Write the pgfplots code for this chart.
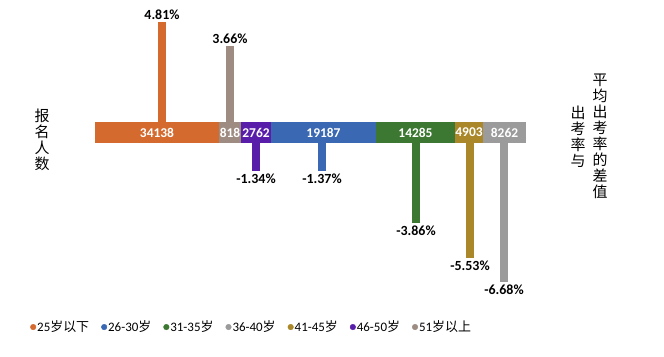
\documentclass[border=0pt]{standalone}
\usepackage{pgfplots}
\pgfplotsset{compat=1.18}
\usepackage{fontspec}
\setmainfont{Carlito}
\newfontfamily\cjk{Noto Sans CJK SC}
\definecolor{cOra}{RGB}{212,106,46}
\definecolor{cBrn}{RGB}{158,140,130}
\definecolor{cPur}{RGB}{88,30,170}
\definecolor{cBlu}{RGB}{58,104,178}
\definecolor{cGrn}{RGB}{60,120,50}
\definecolor{cGld}{RGB}{170,135,40}
\definecolor{cGry}{RGB}{155,155,155}
\newcommand{\lf}{\fontsize{13}{15}\selectfont}
\pgfplotsset{
  vbar/.style={ybar, bar width=8bp, bar shift=0pt, draw=none, fill=#1,
    y filter/.expression={y>0 ? y+0.5 : y-0.5},
    point meta=explicit symbolic, nodes near coords,
    nodes near coords style={font=\bfseries\fontsize{14}{16}\selectfont, text=black, inner sep=2.5bp},
    forget plot},
  seg/.style={fill=#1, draw=none, sharp plot, forget plot},
}
\begin{document}
\begin{tikzpicture}
\begin{axis}[
  scale only axis, width=664bp, height=357bp,
  xmin=0, xmax=664, ymin=-10.79, ymax=6.37,
  axis lines=none, clip=false,
  legend columns=7,
  legend style={draw=none, fill=none, at={(axis cs:27,-9.35)}, anchor=west,
    nodes={inner sep=1bp, font=\lf},
    /tikz/every even column/.append style={column sep=11bp}},
  legend image code/.code={\fill[#1] (2.8bp,0) circle (2.8bp);},
]
\path (rel axis cs:0,0) rectangle (rel axis cs:1,1);
% difference bars (percent)
\addplot[vbar=cOra] coordinates {(162,4.81) [4.81\%]};
\addplot[vbar=cBrn] coordinates {(230,3.66) [3.66\%]};
\addplot[vbar=cPur, nodes near coords style={anchor=north}] coordinates {(256,-1.34) [-1.34\%]};
\addplot[vbar=cBlu, nodes near coords style={anchor=north}] coordinates {(322,-1.37) [-1.37\%]};
\addplot[vbar=cGrn, nodes near coords style={anchor=north}] coordinates {(416,-3.86) [-3.86\%]};
\addplot[vbar=cGld, nodes near coords style={anchor=north}] coordinates {(470,-5.53) [-5.53\%]};
\addplot[vbar=cGry, nodes near coords style={anchor=north}] coordinates {(504,-6.68) [-6.68\%]};
% registrant band segments
\addplot[seg=cOra] coordinates {(95,-0.5) (219,-0.5) (219,0.5) (95,0.5)} -- cycle;
\addplot[seg=cBrn] coordinates {(219,-0.5) (241,-0.5) (241,0.5) (219,0.5)} -- cycle;
\addplot[seg=cPur] coordinates {(241,-0.5) (271,-0.5) (271,0.5) (241,0.5)} -- cycle;
\addplot[seg=cBlu] coordinates {(271,-0.5) (376,-0.5) (376,0.5) (271,0.5)} -- cycle;
\addplot[seg=cGrn] coordinates {(376,-0.5) (455,-0.5) (455,0.5) (376,0.5)} -- cycle;
\addplot[seg=cGld] coordinates {(455,-0.5) (483,-0.5) (483,0.5) (455,0.5)} -- cycle;
\addplot[seg=cGry] coordinates {(483,-0.5) (526,-0.5) (526,0.5) (483,0.5)} -- cycle;
\begin{scope}[every node/.style={text=white, font=\bfseries\fontsize{13.5}{15}\selectfont, inner sep=0}]
\node at (axis cs:157,0) {34138};
\node at (axis cs:230,0) {818};
\node at (axis cs:256,0) {2762};
\node at (axis cs:323.5,0) {19187};
\node at (axis cs:415.5,0) {14285};
\node at (axis cs:469,0) {4903};
\node at (axis cs:504.5,0) {8262};
\end{scope}
% side labels
\node[font=\cjk\fontsize{15}{16}\selectfont, align=center] at (axis cs:42,-0.36) {报\\名\\人\\数};
\node[font=\cjk\fontsize{15}{16}\selectfont, align=center] at (axis cs:578,-0.22) {出\\考\\率\\与};
\node[font=\cjk\fontsize{15}{16}\selectfont, align=center] at (axis cs:600,-0.19) {平\\均\\出\\考\\率\\的\\差\\值};
% legend
\addlegendimage{cOra}\addlegendentry{\lf 25{\cjk 岁以下}}
\addlegendimage{cBlu}\addlegendentry{\lf 26-30{\cjk 岁}}
\addlegendimage{cGrn}\addlegendentry{\lf 31-35{\cjk 岁}}
\addlegendimage{cGry}\addlegendentry{\lf 36-40{\cjk 岁}}
\addlegendimage{cGld}\addlegendentry{\lf 41-45{\cjk 岁}}
\addlegendimage{cPur}\addlegendentry{\lf 46-50{\cjk 岁}}
\addlegendimage{cBrn}\addlegendentry{\lf 51{\cjk 岁以上}}
\end{axis}
\end{tikzpicture}
\end{document}
